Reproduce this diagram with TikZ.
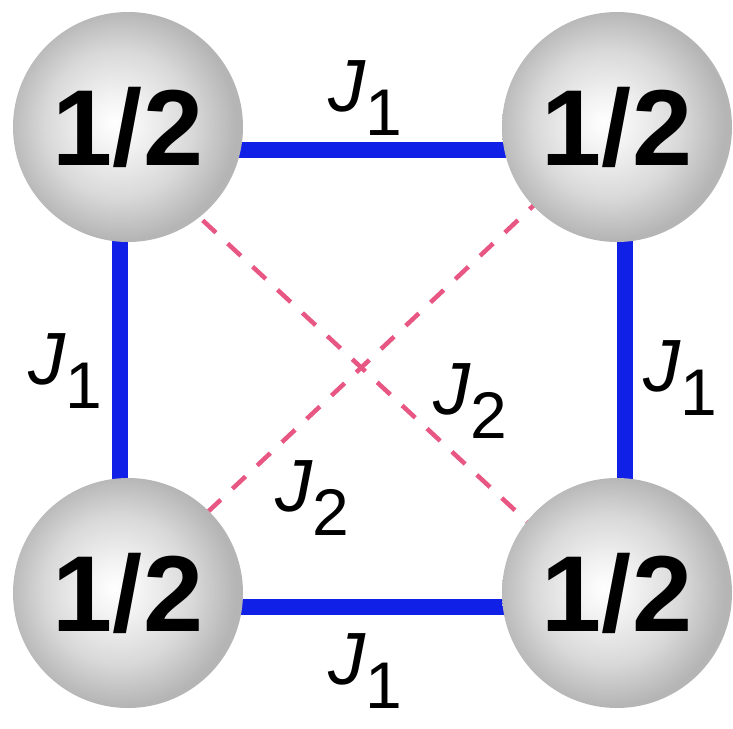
\documentclass[tikz,border=0pt]{standalone}
\usepackage{fontspec}
\setmainfont{Liberation Sans}
\usetikzlibrary{backgrounds}
\definecolor{bondblue}{RGB}{16,32,230}
\definecolor{bondpink}{RGB}{232,86,132}
\pgfdeclareradialshading{spinball}{\pgfpoint{-3bp}{1bp}}{%
  color(0bp)=(white); color(6bp)=(gray!10); color(16bp)=(gray!30);
  color(25bp)=(gray!58); color(50bp)=(gray!58)}
\newcommand{\Jlab}[1]{{\itshape J}\raisebox{-24pt}{\fontsize{66}{66}\selectfont #1}}

\begin{document}
\begin{tikzpicture}[x=1pt, y=-1pt,
  spin/.style={circle, minimum size=230pt, inner sep=0pt, shading=spinball,
    font=\fontsize{108}{108}\selectfont\bfseries},
  jone/.style={line width=16pt, draw=bondblue},
  jtwo/.style={line width=4.5pt, draw=bondpink, dash pattern=on 18pt off 16pt},
  coupling/.style={inner sep=0pt, font=\fontsize{74}{74}\selectfont}]
  \useasboundingbox (0,0) rectangle (733,728);
  % spins on the corners of the square
  \node[spin] (TL) at (128,127) {1/2};
  \node[spin] (TR) at (617,127) {1/2};
  \node[spin] (BL) at (128,593) {1/2};
  \node[spin] (BR) at (617,593) {1/2};
  % bonds behind the spins
  \begin{scope}[on background layer]
    \fill[white] (0,0) rectangle (733,728);
    \draw[jone] ([yshift=-23pt]TL.center) -- ([yshift=-23pt]TR.center);
    \draw[jone] ([yshift=-14pt]BL.center) -- ([yshift=-14pt]BR.center);
    \draw[jone] ([xshift=-8pt]TL.center) -- ([xshift=-8pt]BL.center);
    \draw[jone] ([xshift=8pt]TR.center) -- ([xshift=8pt]BR.center);
    \draw[jtwo] ([yshift=-24pt]TL.center) -- ([yshift=-12pt]BR.center);
    \draw[jtwo] (TR.center) -- ([yshift=6pt]BL.center);
  \end{scope}
  % coupling labels
  \node[coupling] (Jtop) at (365,98) {\Jlab{1}};
  \node[coupling] (Jleft) at (65,371) {\Jlab{1}};
  \node[coupling] (Jright) at (680,378) {\Jlab{1}};
  \node[coupling] (Jbottom) at (365,671) {\Jlab{1}};
  \node[coupling] (Jlow) at (312,498) {\Jlab{2}};
  \node[coupling] (Jup) at (470,401) {\Jlab{2}};
\end{tikzpicture}
\end{document}
